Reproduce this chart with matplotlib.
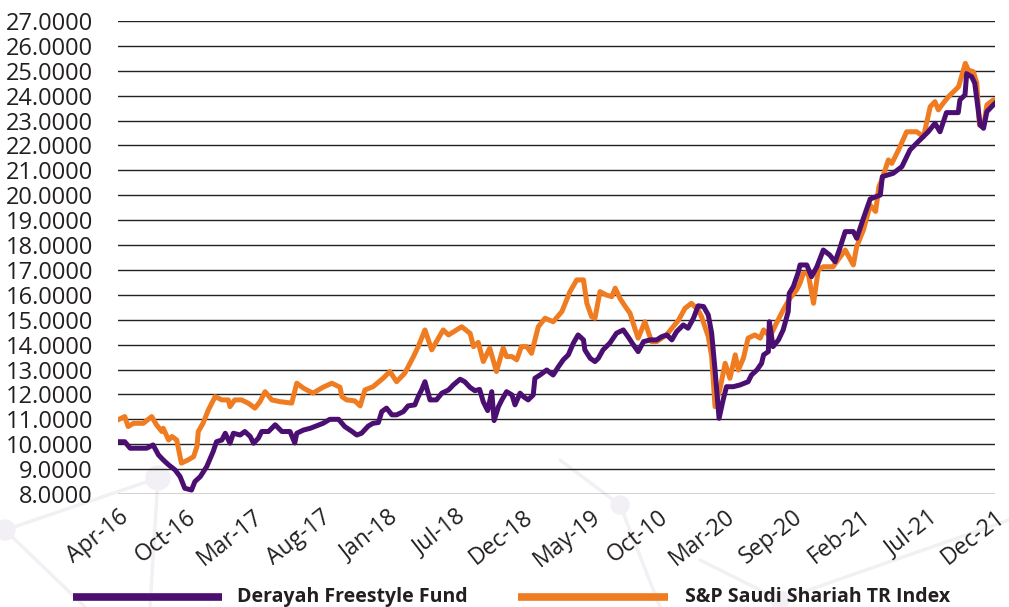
import matplotlib
matplotlib.use("Agg")
import matplotlib.pyplot as plt
from matplotlib.lines import Line2D
from matplotlib.patches import Circle

# ---- data (x in category units: 10 units per labelled interval) ----
tick_labels = ["Apr-16", "Oct-16", "Mar-17", "Aug-17", "Jan-18", "Jul-18", "Dec-18",
               "May-19", "Oct-10", "Mar-20", "Sep-20", "Feb-21", "Jul-21", "Dec-21"]
tick_pos = [0, 10, 20, 30, 40, 50, 60, 70, 80, 90, 100, 110, 120, 130]

fund_x = [0.0, 1.0, 1.8, 4.25, 5.2, 6.0, 6.7, 7.5, 8.45, 9.2, 9.9, 10.9, 11.4, 12.2, 13.15,
          14.1, 14.6, 15.4, 15.9, 16.6, 17.1, 18.1, 18.8, 19.6, 20.1, 20.8, 21.3, 22.3, 23.3,
          24.3, 25.5, 26.2, 26.5, 27.5, 28.5, 30.4, 31.4, 32.7, 33.6, 34.6, 35.4, 36.1, 37.1,
          37.8, 38.6, 39.1, 39.8, 40.6, 41.3, 42.3, 43.0, 44.0, 44.5, 45.0, 45.5, 46.25, 47.2,
          48.0, 49.0, 49.7, 50.7, 51.4, 52.2, 52.9, 53.6, 54.15, 54.8, 55.4, 55.75, 56.4, 56.9,
          57.6, 58.4, 58.85, 59.6, 60.1, 60.8, 61.55, 61.8, 62.55, 63.55, 64.5, 65.3, 66.0,
          66.75, 67.5, 68.2, 69.0, 69.2, 70.0, 70.7, 71.2, 71.9, 72.9, 73.9, 74.9, 75.6, 76.4,
          77.1, 77.9, 78.9, 79.85, 80.6, 81.35, 82.1, 82.8, 83.8, 84.5, 85.3, 86.0, 86.8, 87.5,
          88.0, 88.5, 89.1, 89.7, 90.2, 91.2, 92.2, 93.4, 93.9, 94.7, 95.4, 95.7, 96.4, 96.55,
          97.1, 97.9, 98.6, 99.35, 99.5, 100.1, 100.8, 101.1, 102.1, 102.8, 103.6, 104.55,
          105.5, 106.3, 107.0, 107.8, 109.0, 109.5, 110.5, 111.5, 113.0, 113.3, 114.9, 116.2,
          117.4, 118.6, 120.1, 121.1, 121.85, 122.8, 124.55, 124.8, 125.55, 125.8, 126.55,
          127.0, 127.8, 128.3, 128.8, 129.75, 130.0]
fund_y = [10.10, 10.10, 9.84, 9.84, 9.97, 9.57, 9.37, 9.17, 8.97, 8.70, 8.23, 8.16, 8.50, 8.70,
          9.10, 9.70, 10.10, 10.17, 10.44, 10.04, 10.44, 10.37, 10.51, 10.31, 10.04, 10.24,
          10.51, 10.51, 10.78, 10.51, 10.51, 10.05, 10.44, 10.57, 10.64, 10.84, 11.00, 11.00,
          10.71, 10.53, 10.37, 10.44, 10.73, 10.84, 10.87, 11.31, 11.45, 11.18, 11.18, 11.31,
          11.54, 11.58, 11.91, 12.18, 12.51, 11.78, 11.78, 12.05, 12.18, 12.38, 12.61, 12.51,
          12.28, 12.15, 12.20, 11.70, 11.35, 12.11, 10.95, 11.51, 11.78, 12.11, 11.98, 11.58,
          12.05, 11.91, 11.78, 11.98, 12.65, 12.78, 12.98, 12.78, 13.12, 13.39, 13.59, 14.06,
          14.39, 14.19, 13.79, 13.45, 13.32, 13.45, 13.79, 14.06, 14.46, 14.59, 14.32, 13.99,
          13.72, 14.12, 14.19, 14.19, 14.32, 14.39, 14.19, 14.52, 14.79, 14.66, 15.06, 15.56,
          15.53, 15.19, 14.46, 12.98, 11.04, 11.78, 12.31, 12.31, 12.38, 12.51, 12.78, 12.98,
          13.25, 13.59, 13.72, 14.92, 13.92, 14.19, 14.59, 15.33, 16.06, 16.33, 16.87, 17.20,
          17.20, 16.73, 17.13, 17.80, 17.60, 17.33, 17.87, 18.54, 18.54, 18.27, 19.08, 19.85,
          20.01, 20.75, 20.88, 21.15, 21.82, 22.15, 22.55, 22.89, 22.55, 23.32, 23.32, 23.83,
          24.03, 24.88, 24.76, 24.50, 22.82, 22.69, 23.36, 23.63, 23.69]

index_x = [0.0, 1.0, 1.5, 2.3, 3.75, 5.0, 5.7, 6.5, 6.7, 7.5, 8.0, 8.7, 9.4, 10.4, 11.2, 11.7,
           11.9, 12.6, 13.4, 14.4, 15.4, 16.35, 16.6, 17.3, 18.3, 19.3, 20.3, 21.05, 21.8,
           22.8, 24.0, 25.75, 26.5, 27.5, 28.9, 30.4, 31.7, 32.9, 33.2, 33.9, 35.1, 35.9,
           36.6, 37.8, 39.3, 40.3, 41.3, 42.5, 43.8, 44.5, 45.5, 46.5, 48.2, 49.0, 50.95,
           52.2, 52.7, 53.4, 54.15, 55.1, 56.1, 57.1, 57.6, 58.4, 59.1, 59.8, 60.6, 61.3,
           62.3, 63.3, 64.5, 65.8, 67.0, 68.0, 69.0, 69.5, 70.2, 70.7, 71.45, 72.4, 73.2,
           73.7, 74.4, 75.2, 75.9, 76.6, 77.1, 78.1, 79.1, 79.85, 81.3, 83.1, 84.05, 85.0,
           86.0, 86.5, 87.0, 87.5, 88.0, 88.5, 89.2, 90.0, 90.7, 91.5, 91.95, 92.7, 93.4,
           94.4, 95.2, 95.7, 96.65, 97.6, 98.6, 99.6, 100.6, 101.1, 101.6, 102.3, 103.1,
           103.8, 104.55, 106.0, 107.8, 109.0, 109.5, 110.5, 111.5, 112.3, 112.8, 113.2,
           114.2, 114.7, 115.7, 116.9, 118.4, 119.4, 120.4, 121.1, 121.6, 122.3, 123.1,
           124.1, 124.6, 125.6, 126.05, 126.8, 127.3, 127.7, 128.3, 128.8, 129.75, 130.0]
index_y = [10.98, 11.11, 10.71, 10.84, 10.84, 11.11, 10.78, 10.51, 10.64, 10.17, 10.31, 10.17,
           9.24, 9.37, 9.50, 9.90, 10.51, 10.84, 11.38, 11.91, 11.78, 11.78, 11.51, 11.78,
           11.78, 11.65, 11.45, 11.71, 12.11, 11.78, 11.71, 11.65, 12.45, 12.25, 12.05, 12.29,
           12.45, 12.29, 11.91, 11.78, 11.74, 11.54, 12.18, 12.31, 12.65, 12.92, 12.51, 12.85,
           13.52, 13.92, 14.59, 13.79, 14.59, 14.39, 14.72, 14.45, 13.92, 14.09, 13.32, 13.86,
           12.92, 13.86, 13.52, 13.52, 13.39, 13.92, 13.92, 13.65, 14.72, 15.06, 14.92, 15.33,
           16.13, 16.60, 16.60, 15.66, 15.12, 15.06, 16.13, 15.99, 15.93, 16.27, 15.86, 15.53,
           15.26, 14.66, 14.26, 14.92, 14.12, 14.12, 14.39, 14.99, 15.46, 15.66, 15.39, 15.12,
           14.72, 14.32, 13.52, 11.51, 12.18, 13.25, 12.65, 13.59, 12.98, 13.45, 14.26, 14.39,
           14.26, 14.59, 14.32, 14.86, 15.39, 15.86, 16.20, 16.47, 16.87, 16.87, 15.66, 17.00,
           17.13, 17.13, 17.80, 17.20, 17.94, 18.61, 19.60, 19.35, 20.35, 20.61, 21.42, 21.28,
           21.82, 22.55, 22.55, 22.35, 23.56, 23.76, 23.43, 23.69, 23.96, 24.23, 24.36, 25.30,
           25.03, 24.96, 24.50, 22.82, 22.76, 23.63, 23.83, 23.83]

series_names = ["Derayah Freestyle Fund", "S&P Saudi Shariah TR Index"]
y_ticks = list(range(8, 28))

PURPLE = "#4B0F72"
ORANGE = "#F07C22"
TEXT = "#231F20"

fig = plt.figure(figsize=(10.09, 6.07), dpi=100)
fig.patch.set_facecolor("white")

# faint background network decoration
deco = fig.add_axes([0, 0, 1, 1], zorder=0)
deco.set_xlim(0, 1009); deco.set_ylim(607, 0); deco.axis("off")
dc = "#F2F0F4"
for (a, b) in [((5, 530), (158, 478)), ((158, 478), (150, 607)), ((5, 530), (85, 607)),
               ((620, 505), (660, 607)), ((620, 505), (560, 460)), ((780, 600), (1009, 520)),
               ((780, 600), (700, 560))]:
    deco.plot([a[0], b[0]], [a[1], b[1]], color=dc, lw=2.5, solid_capstyle="round")
for (c, r) in [((158, 478), 12), ((5, 530), 10), ((620, 505), 9), ((780, 600), 9)]:
    deco.add_patch(Circle(c, r, color=dc))

ax = fig.add_axes([118 / 1009, 1 - 494 / 607, (995 - 118) / 1009, (494 - 21) / 607], zorder=1)
ax.patch.set_alpha(0)
ax.set_xlim(0, 130)
ax.set_ylim(8, 27)
ax.set_yticks(y_ticks)
ax.set_yticklabels([f"{v:.4f}" for v in y_ticks], fontsize=17, family="Open Sans", color=TEXT)
ax.set_xticks(tick_pos)
ax.set_xticklabels(tick_labels, fontsize=16.5, family="Open Sans", color=TEXT,
                   rotation=38, ha="right", va="top", rotation_mode="anchor")
ax.tick_params(axis="both", length=0)
ax.tick_params(axis="y", pad=18)
ax.tick_params(axis="x", pad=8)
for s in ax.spines.values():
    s.set_visible(False)
ax.grid(axis="y", color="#222222", lw=1.0)
ax.grid(axis="x", visible=False)
ax.set_axisbelow(True)

ax.plot(index_x, index_y, color=ORANGE, lw=3.6, solid_joinstyle="round", zorder=3)
ax.plot(fund_x, fund_y, color=PURPLE, lw=3.6, solid_joinstyle="round", zorder=4)

# legend at bottom
ly = 1 - 597 / 607
fig.add_artist(Line2D([73 / 1009, 222 / 1009], [ly, ly], color=PURPLE, lw=5.5,
                      transform=fig.transFigure, solid_capstyle="butt"))
fig.text(237 / 1009, ly, series_names[0], fontsize=14, family="Open Sans", weight="bold",
         color=TEXT, va="center", ha="left")
fig.add_artist(Line2D([518 / 1009, 668 / 1009], [ly, ly], color=ORANGE, lw=5.5,
                      transform=fig.transFigure, solid_capstyle="butt"))
fig.text(685 / 1009, ly, series_names[1], fontsize=14, family="Open Sans", weight="bold",
         color=TEXT, va="center", ha="left")

fig.savefig("out.png", dpi=100)
